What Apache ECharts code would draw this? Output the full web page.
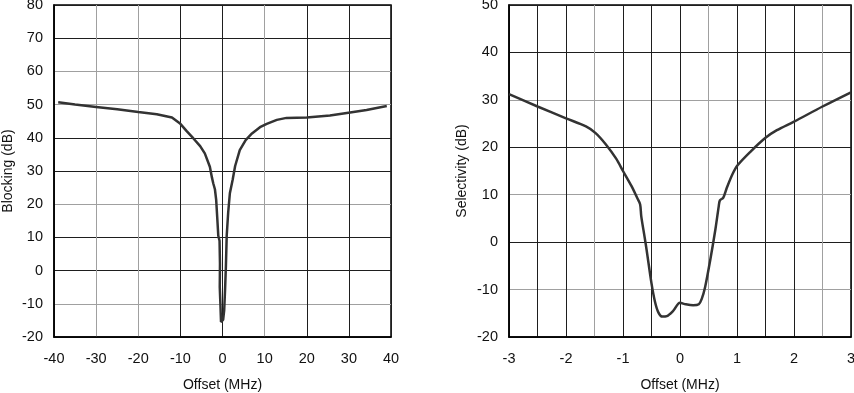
<!DOCTYPE html>
<html>
<head>
<meta charset="utf-8">
<script src="https://cdn.jsdelivr.net/npm/echarts@6/dist/echarts.min.js"></script>
<style>
html,body{margin:0;padding:0;background:#fff;}
#c{width:854px;height:393px;}
</style>
</head>
<body>
<div id="c"></div>
<script>
// Blocking vs offset (MHz)
const blockingData = [
  [-39,50.7],[-35,50.0],[-30,49.3],[-25,48.6],[-20,47.8],[-15.6,47.1],[-12,46.1],[-10,44.2],
  [-8.5,42.0],[-6.9,39.8],[-5.3,37.5],[-4.2,35.3],[-3.0,31.3],[-2.5,28],[-2.2,26.3],[-1.8,24.5],
  [-1.5,21.3],[-1.25,16],[-1.0,10.5],[-0.7,9],[-0.6,2],[-0.65,-5],[-0.5,-10],[-0.35,-15.5],
  [0.15,-14.8],[0.4,-12],[0.6,-6],[0.8,1],[1.0,10.5],[1.35,17.5],[1.75,23.3],[2.4,27.3],
  [3.0,31.5],[4.1,36.3],[5.5,39.3],[7.0,41.3],[8.9,43.2],[10.5,44.2],[12.9,45.4],[15.2,46.0],
  [20,46.1],[25.5,46.7],[30.3,47.6],[34.2,48.4],[39,49.6]
];
// Selectivity vs offset (MHz)
const selectivityData = [
  [-3,31.2],[-2.5,28.6],[-2,26.1],[-1.65,24.4],[-1.48,23.0],[-1.3,20.6],[-1.12,17.6],[-1.0,15.0],
  [-0.85,11.8],[-0.75,9.3],[-0.7,8.0],[-0.68,5.5],[-0.62,1.0],[-0.585,-1.7],[-0.5,-8.7],[-0.44,-12.5],
  [-0.38,-14.8],[-0.31,-15.7],[-0.23,-15.6],[-0.12,-14.5],[0,-12.8],[0.1,-13.1],[0.23,-13.3],[0.33,-13.1],
  [0.38,-12.0],[0.44,-9.5],[0.53,-3.8],[0.62,2.6],[0.68,7.6],[0.7,8.8],[0.76,9.4],[0.82,11.4],
  [0.92,14.3],[1.01,16.2],[1.23,19.0],[1.5,22.0],[1.7,23.6],[2.0,25.4],[2.5,28.6],[3.0,31.6]
];
const leftXRange = [-40, 40, 10];
const leftYRange = [-20, 80, 10];
const rightXRange = [-3, 3, 0.5];
const rightYRange = [-20, 50, 10];
const xTitle = 'Offset (MHz)';
const leftYTitle = 'Blocking (dB)';
const rightYTitle = 'Selectivity (dB)';

const K = '#1e1e1e', G = '#a0a0a0';
const leftXColors  = [K,G,G,K,K,G,K,K,K];
const leftYColors  = [K,G,K,K,G,K,K,G,G,K,K];
const rightXColors = [K,K,K,G,K,K,K,G,K,K,K,G,K];
const rightYColors = [K,G,K,G,K,G,K,K];

const font = 'Liberation Sans, Arial, sans-serif';
const lbl = {color:'#111', fontSize:14.5, fontFamily:font};
const nm = {color:'#111', fontSize:14, fontFamily:font};

function xAxis(idx, r, colors, fmt) {
  return {
    type:'value', gridIndex:idx, min:r[0], max:r[1], interval:r[2],
    name:xTitle, nameLocation:'middle', nameGap:41, nameTextStyle:nm,
    axisLine:{show:true, onZero:false, lineStyle:{color:'#000', width:1.5}},
    axisTick:{show:false},
    axisLabel:Object.assign({margin:14, formatter:fmt}, lbl),
    splitLine:{show:true, lineStyle:{color:colors, width:1}}
  };
}
function yAxis(idx, r, colors, title, gap) {
  return {
    type:'value', gridIndex:idx, min:r[0], max:r[1], interval:r[2],
    name:title, nameLocation:'middle', nameGap:gap, nameRotate:90, nameTextStyle:nm,
    axisLine:{show:true, onZero:false, lineStyle:{color:'#000', width:1.5}},
    axisTick:{show:false},
    axisLabel:Object.assign({margin:11}, lbl),
    splitLine:{show:true, lineStyle:{color:colors, width:1}}
  };
}

const chart = echarts.init(document.getElementById('c'), null, {renderer:'canvas'});
chart.setOption({
  animation:false,
  backgroundColor:'#fff',
  grid:[
    {left:54, right:463, top:5, bottom:56, show:true, borderColor:'#000', borderWidth:1.5, backgroundColor:'transparent', containLabel:false, outerBoundsMode:'none'},
    {left:509, right:3, top:5, bottom:56, show:true, borderColor:'#000', borderWidth:1.5, backgroundColor:'transparent', containLabel:false, outerBoundsMode:'none'}
  ],
  xAxis:[
    xAxis(0, leftXRange, leftXColors, v => String(v)),
    xAxis(1, rightXRange, rightXColors, v => Number.isInteger(v) ? String(v) : '')
  ],
  yAxis:[
    yAxis(0, leftYRange, leftYColors, leftYTitle, 39),
    yAxis(1, rightYRange, rightYColors, rightYTitle, 40)
  ],
  series:[
    {type:'line', xAxisIndex:0, yAxisIndex:0, data:blockingData, showSymbol:false, smooth:false,
     lineStyle:{color:'#333', width:2.5}, z:5},
    {type:'line', xAxisIndex:1, yAxisIndex:1, data:selectivityData, showSymbol:false, smooth:0.3,
     lineStyle:{color:'#333', width:2.5}, z:5}
  ]
});
</script>
</body>
</html>
